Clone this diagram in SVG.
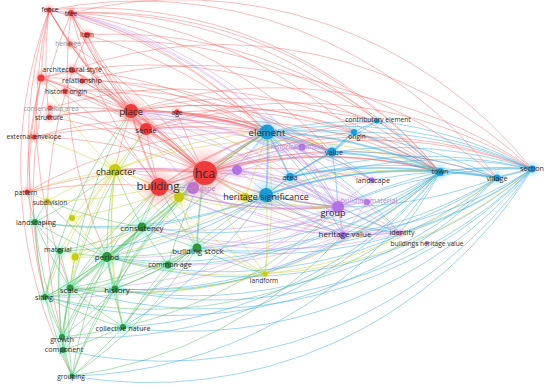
<svg xmlns="http://www.w3.org/2000/svg" width="550" height="387" viewBox="0 0 550 387">
<defs>
<radialGradient id="hr"><stop offset="0" stop-color="#ff6a6a" stop-opacity=".55"/><stop offset="1" stop-color="#ff6a6a" stop-opacity="0"/></radialGradient>
<radialGradient id="hb"><stop offset="0" stop-color="#4cc0f0" stop-opacity=".55"/><stop offset="1" stop-color="#4cc0f0" stop-opacity="0"/></radialGradient>
<radialGradient id="hg"><stop offset="0" stop-color="#70eec8" stop-opacity=".65"/><stop offset="1" stop-color="#70eec8" stop-opacity="0"/></radialGradient>
<radialGradient id="hy"><stop offset="0" stop-color="#e0e640" stop-opacity=".55"/><stop offset="1" stop-color="#e0e640" stop-opacity="0"/></radialGradient>
<radialGradient id="hp"><stop offset="0" stop-color="#d49cf4" stop-opacity=".6"/><stop offset="1" stop-color="#d49cf4" stop-opacity="0"/></radialGradient>
</defs>
<style>
#edges path{fill:none;stroke-width:.95}
#edges .w{stroke-width:1.8}
.r path{stroke:#f26262;stroke-opacity:.45}
.b path{stroke:#2ea4da;stroke-opacity:.48}
.g path{stroke:#35b04a;stroke-opacity:.42}
.p path{stroke:#c48ae8;stroke-opacity:.45}
.y path{stroke:#c6ca2a;stroke-opacity:.45}
.nr{fill:#ee3a3a}.nb{fill:#1c9bd6}.ng{fill:#2f9540}.ny{fill:#c4cb14}.np{fill:#b173e4}
text{font-family:"Open Sans","Liberation Sans",sans-serif;fill:#2e2e2e;text-anchor:middle;dominant-baseline:central;font-size:6.6px}
.f{fill:#9a9a9a}.fp{fill:#b48ad6}
.s7{font-size:7.2px}.s8{font-size:8px}.s9{font-size:9px}.s10{font-size:9.6px}.s11{font-size:11.5px}.s12{font-size:12.5px}
</style>
<rect width="550" height="387" fill="#fff"/>
<g id="edges">
<g class="r">
<path d="M49 10A450 450 0 0 0 205 173"/><path d="M71 13A450 450 0 0 0 205 173"/><path d="M87 35A450 450 0 0 0 205 173"/><path d="M70 44A450 450 0 0 1 205 173"/><path d="M72 70A450 450 0 0 1 205 173"/><path d="M41 78A450 450 0 0 1 205 173"/><path d="M82 81A450 450 0 0 1 205 173"/><path d="M65 91A450 450 0 0 1 205 173"/><path d="M50 108A450 450 0 0 1 205 173"/><path d="M49 117A450 450 0 0 1 205 173"/><path class="w" d="M131 111A450 450 0 0 1 205 173"/><path d="M177 112A450 450 0 0 0 205 173"/><path class="w" d="M146 129A450 450 0 0 1 205 173"/><path d="M34 137A450 450 0 0 1 205 173"/><path d="M27 192A450 450 0 0 1 205 173"/><path class="w" d="M205 173A450 450 0 0 1 267 132"/><path d="M205 173A450 450 0 0 1 377 121"/><path d="M205 173A450 450 0 0 1 354 132"/><path d="M205 173A450 450 0 0 1 332 152"/><path class="w" d="M205 173A450 450 0 0 1 440 172"/><path d="M205 173A450 450 0 0 1 497 178"/><path d="M205 173A450 450 0 0 1 532 169"/><path d="M205 173A450 450 0 0 1 372 180"/><path class="w" d="M205 173A450 450 0 0 0 338 207"/><path d="M205 173A450 450 0 0 0 400 233"/><path d="M205 173A450 450 0 0 0 343 235"/><path class="w" d="M115 170A450 450 0 0 1 205 173"/><path class="w" d="M159 187A450 450 0 0 1 205 173"/>
<path d="M49 10A450 450 0 0 0 131 111"/><path d="M71 13A450 450 0 0 0 131 111"/><path d="M87 35A450 450 0 0 0 131 111"/><path d="M70 44A450 450 0 0 0 131 111"/><path d="M72 70A450 450 0 0 1 131 111"/><path d="M82 81A450 450 0 0 1 131 111"/><path d="M65 91A450 450 0 0 1 131 111"/><path d="M41 78A450 450 0 0 1 131 111"/><path d="M49 117A450 450 0 0 1 131 111"/><path d="M50 108A450 450 0 0 1 131 111"/><path class="w" d="M131 111A450 450 0 0 1 267 132"/><path d="M131 111A450 450 0 0 1 332 152"/><path d="M131 111A450 450 0 0 1 440 172"/><path d="M131 111A450 450 0 0 1 532 169"/><path d="M131 111A450 450 0 0 1 354 132"/><path d="M131 111A450 450 0 0 1 377 121"/><path d="M131 111A450 450 0 0 0 115 170"/><path class="w" d="M131 111A450 450 0 0 0 159 187"/><path d="M131 111A450 450 0 0 0 146 129"/>
<path d="M49 10A450 450 0 0 0 146 129"/><path d="M71 13A450 450 0 0 0 146 129"/><path d="M41 78A450 450 0 0 1 146 129"/><path d="M34 137A450 450 0 0 1 146 129"/><path d="M146 129A450 450 0 0 1 267 132"/><path d="M146 129A450 450 0 0 1 332 152"/><path d="M146 129A450 450 0 0 1 440 172"/><path d="M146 129A450 450 0 0 1 377 121"/><path d="M146 129A450 450 0 0 0 159 187"/><path d="M72 70A450 450 0 0 1 146 129"/>
<path d="M71 13A450 450 0 0 1 267 132"/><path d="M71 13A450 450 0 0 1 332 152"/><path d="M71 13A450 450 0 0 1 440 172"/><path d="M71 13A450 450 0 0 1 532 169"/><path d="M71 13A450 450 0 0 1 377 121"/><path d="M71 13A450 450 0 0 1 354 132"/><path d="M49 10A450 450 0 0 1 71 13"/><path d="M71 13A450 450 0 0 0 87 35"/><path d="M49 10A450 450 0 0 1 267 132"/><path d="M49 10A450 450 0 0 1 440 172"/><path d="M49 10A450 450 0 0 1 497 178"/><path d="M49 10A450 450 0 0 0 49 117"/><path d="M49 10A450 450 0 0 0 41 78"/><path d="M49 10A450 450 0 0 0 70 44"/><path d="M41 78A450 450 0 0 1 267 132"/><path d="M41 78A450 450 0 0 1 440 172"/><path d="M41 78A450 450 0 0 0 27 192"/><path d="M41 78A450 450 0 0 0 34 137"/><path d="M41 78A450 450 0 0 1 72 70"/><path d="M27 192A450 450 0 0 1 159 187"/><path d="M41 78A450 450 0 0 1 159 187"/><path d="M71 13A450 450 0 0 0 159 187"/><path class="w" d="M159 187A450 450 0 0 1 267 132"/><path d="M159 187A450 450 0 0 1 440 172"/><path d="M159 187A450 450 0 0 0 338 207"/><path d="M159 187A450 450 0 0 1 532 169"/><path d="M177 112A450 450 0 0 1 267 132"/><path d="M177 112A450 450 0 0 1 332 152"/><path d="M87 35A450 450 0 0 1 267 132"/><path d="M72 70A450 450 0 0 1 267 132"/><path d="M70 44A450 450 0 0 1 440 172"/><path d="M49 117A450 450 0 0 1 267 132"/><path d="M82 81A450 450 0 0 1 332 152"/><path d="M65 91A450 450 0 0 1 267 132"/><path d="M50 108A450 450 0 0 1 440 172"/><path d="M34 137A450 450 0 0 1 267 132"/><path d="M27 192A450 450 0 0 1 267 132"/>
<path d="M49 10A450 450 0 0 0 70 288"/><path d="M71 13A450 450 0 0 0 45 297"/><path d="M49 10A450 450 0 0 0 35 222"/><path d="M41 78A450 450 0 0 0 45 297"/><path d="M71 13A450 450 0 0 0 107 257"/><path d="M49 10A450 450 0 0 0 72 376"/><path d="M87 35A450 450 0 0 0 62 337"/>
<path d="M87 35A450 450 0 0 1 440 172"/><path d="M72 70A450 450 0 0 1 532 169"/><path d="M82 81A450 450 0 0 1 497 178"/><path d="M65 91A450 450 0 0 1 332 152"/><path d="M177 112A450 450 0 0 1 440 172"/><path d="M146 129A450 450 0 0 1 532 169"/>
</g>
<g class="b">
<path class="w" d="M267 132A450 450 0 0 1 440 172"/><path d="M267 132A450 450 0 0 1 497 178"/><path d="M267 132A450 450 0 0 1 532 169"/><path d="M267 132A450 450 0 0 1 377 121"/><path d="M267 132A450 450 0 0 1 354 132"/><path class="w" d="M267 132A450 450 0 0 1 332 152"/><path class="w" d="M267 132A450 450 0 0 1 290 177"/><path class="w" d="M267 132A450 450 0 0 1 266 195"/><path d="M267 132A450 450 0 0 1 338 207"/><path d="M267 132A450 450 0 0 1 372 180"/><path d="M107 257A450 450 0 0 0 267 132"/><path d="M142 227A450 450 0 0 1 267 132"/><path d="M267 132A450 450 0 0 1 343 235"/><path d="M267 132A450 450 0 0 1 400 233"/>
<path class="w" d="M332 152A450 450 0 0 1 440 172"/><path d="M332 152A450 450 0 0 1 497 178"/><path d="M332 152A450 450 0 0 1 532 169"/><path class="w" d="M290 177A450 450 0 0 1 332 152"/><path d="M266 195A450 450 0 0 1 332 152"/><path d="M332 152A450 450 0 0 1 377 121"/><path d="M332 152A450 450 0 0 1 372 180"/><path class="w" d="M332 152A450 450 0 0 1 354 132"/><path d="M332 152A450 450 0 0 1 338 207"/>
<path class="w" d="M266 195A450 450 0 0 1 440 172"/><path d="M266 195A450 450 0 0 1 532 169"/><path d="M266 195A450 450 0 0 1 497 178"/><path d="M107 257A450 450 0 0 0 266 195"/><path d="M197 248A450 450 0 0 0 266 195"/><path d="M142 227A450 450 0 0 0 266 195"/><path d="M60 251A450 450 0 0 0 266 195"/><path d="M35 222A450 450 0 0 0 266 195"/><path d="M123 327A450 450 0 0 0 266 195"/><path d="M266 195A450 450 0 0 0 338 207"/><path d="M266 195A450 450 0 0 0 343 235"/><path d="M266 195A450 450 0 0 0 400 233"/><path d="M266 195A450 450 0 0 1 290 177"/>
<path class="w" d="M290 177A450 450 0 0 1 440 172"/><path d="M290 177A450 450 0 0 1 497 178"/><path d="M290 177A450 450 0 0 0 400 233"/><path d="M290 177A450 450 0 0 1 532 169"/>
<path class="w" d="M440 172A450 450 0 0 1 532 169"/><path class="w" d="M440 172A450 450 0 0 1 497 178"/><path d="M338 207A450 450 0 0 1 440 172"/><path d="M343 235A450 450 0 0 0 440 172"/><path d="M440 172A450 450 0 0 1 400 233"/><path d="M168 265A450 450 0 0 0 440 172"/><path d="M115 289A450 450 0 0 0 440 172"/><path d="M70 288A450 450 0 0 0 440 172"/><path d="M107 257A450 450 0 0 0 440 172"/><path d="M142 227A450 450 0 0 0 440 172"/><path d="M197 248A450 450 0 0 0 440 172"/><path d="M72 376A450 450 0 0 0 440 172"/><path d="M123 327A450 450 0 0 0 440 172"/><path d="M62 337A450 450 0 0 0 440 172"/><path d="M354 132A450 450 0 0 1 440 172"/><path d="M377 121A450 450 0 0 1 440 172"/><path d="M372 180A450 450 0 0 1 440 172"/>
<path class="w" d="M497 178A450 450 0 0 1 532 169"/><path d="M338 207A450 450 0 0 1 532 169"/><path d="M400 233A450 450 0 0 0 532 169"/><path d="M343 235A450 450 0 0 0 532 169"/><path d="M197 248A450 450 0 0 0 532 169"/><path d="M123 327A450 450 0 0 0 532 169"/><path d="M72 376A450 450 0 0 0 532 169"/><path d="M63 350A450 450 0 0 0 532 169"/><path d="M115 289A450 450 0 0 0 532 169"/><path d="M70 288A450 450 0 0 0 532 169"/><path d="M107 257A450 450 0 0 0 532 169"/><path d="M354 132A450 450 0 0 1 532 169"/><path d="M377 121A450 450 0 0 1 532 169"/>
<path d="M343 235A450 450 0 0 0 497 178"/><path d="M338 207A450 450 0 0 0 497 178"/><path d="M115 289A450 450 0 0 0 497 178"/><path d="M107 257A450 450 0 0 0 497 178"/><path d="M45 297A450 450 0 0 0 497 178"/><path d="M197 248A450 450 0 0 0 497 178"/><path d="M354 132A450 450 0 0 1 377 121"/>
</g>
<g class="p">
<path class="w" d="M193 188A450 450 0 0 0 338 207"/><path d="M159 187A450 450 0 0 0 338 207"/><path class="w" d="M338 207A450 450 0 0 1 343 235"/><path d="M338 207A450 450 0 0 0 400 233"/><path d="M338 207A450 450 0 0 0 367 202"/><path d="M338 207A450 450 0 0 1 372 180"/><path d="M115 170A450 450 0 0 1 338 207"/><path d="M142 227A450 450 0 0 0 338 207"/><path d="M197 248A450 450 0 0 0 338 207"/><path d="M107 257A450 450 0 0 0 338 207"/><path d="M265 274A450 450 0 0 0 338 207"/><path d="M45 297A450 450 0 0 0 338 207"/><path d="M70 288A450 450 0 0 0 338 207"/><path class="w" d="M237 170A450 450 0 0 1 338 207"/><path d="M302 147A450 450 0 0 1 338 207"/><path d="M290 177A450 450 0 0 0 338 207"/>
<path d="M115 170A450 450 0 0 1 193 188"/><path d="M159 187A450 450 0 0 1 193 188"/><path d="M193 188A450 450 0 0 1 267 132"/><path d="M193 188A450 450 0 0 1 332 152"/><path d="M193 188A450 450 0 0 1 302 147"/><path d="M193 188A450 450 0 0 1 205 173"/><path d="M131 111A450 450 0 0 0 193 188"/>
<path d="M159 187A450 450 0 0 0 343 235"/><path d="M193 188A450 450 0 0 0 343 235"/><path d="M142 227A450 450 0 0 0 343 235"/><path d="M168 265A450 450 0 0 0 343 235"/><path d="M343 235A450 450 0 0 0 400 233"/><path d="M367 202A450 450 0 0 1 343 235"/><path d="M265 274A450 450 0 0 0 343 235"/>
<path d="M131 111A450 450 0 0 1 302 147"/><path d="M71 13A450 450 0 0 1 302 147"/><path d="M267 132A450 450 0 0 1 302 147"/><path d="M302 147A450 450 0 0 1 332 152"/><path d="M205 173A450 450 0 0 1 302 147"/><path d="M267 132A450 450 0 0 1 237 170"/><path d="M237 170A450 450 0 0 0 343 235"/><path d="M205 173A450 450 0 0 1 367 202"/><path d="M159 187A450 450 0 0 0 367 202"/><path d="M267 132A450 450 0 0 1 372 180"/><path d="M159 187A450 450 0 0 0 400 233"/><path d="M142 227A450 450 0 0 0 400 233"/>
<path d="M131 111A450 450 0 0 1 338 207"/><path d="M146 129A450 450 0 0 1 338 207"/><path d="M71 13A450 450 0 0 1 338 207"/><path d="M131 111A450 450 0 0 1 343 235"/><path d="M131 111A450 450 0 0 1 400 233"/><path d="M131 111A450 450 0 0 1 367 202"/><path d="M146 129A450 450 0 0 1 372 180"/><path d="M49 10A450 450 0 0 1 338 207"/>
<path d="M237 170A450 450 0 0 1 400 233"/><path d="M193 188A450 450 0 0 0 400 233"/><path d="M237 170A450 450 0 0 1 367 202"/><path d="M205 173A450 450 0 0 1 237 170"/>
</g>
<g class="g">
<path class="w" d="M70 288A450 450 0 0 0 107 257"/><path class="w" d="M107 257A450 450 0 0 0 115 289"/><path d="M45 297A450 450 0 0 0 107 257"/><path d="M107 257A450 450 0 0 0 62 337"/><path d="M107 257A450 450 0 0 0 63 350"/><path d="M107 257A450 450 0 0 0 72 376"/><path d="M60 251A450 450 0 0 0 107 257"/><path d="M35 222A450 450 0 0 0 107 257"/><path class="w" d="M107 257A450 450 0 0 0 142 227"/><path d="M107 257A450 450 0 0 0 197 248"/><path d="M107 257A450 450 0 0 0 168 265"/><path d="M107 257A450 450 0 0 0 123 327"/><path class="w" d="M107 257A450 450 0 0 0 205 173"/><path d="M159 187A450 450 0 0 0 107 257"/><path d="M115 170A450 450 0 0 0 107 257"/><path d="M47 201A450 450 0 0 0 107 257"/>
<path d="M70 288A450 450 0 0 0 142 227"/><path d="M142 227A450 450 0 0 0 115 289"/><path d="M60 251A450 450 0 0 0 142 227"/><path d="M35 222A450 450 0 0 0 142 227"/><path d="M45 297A450 450 0 0 0 142 227"/><path d="M142 227A450 450 0 0 0 197 248"/><path d="M142 227A450 450 0 0 0 62 337"/><path class="w" d="M142 227A450 450 0 0 0 205 173"/><path d="M159 187A450 450 0 0 0 142 227"/><path d="M115 170A450 450 0 0 0 142 227"/><path d="M47 201A450 450 0 0 0 142 227"/><path d="M142 227A450 450 0 0 0 168 265"/>
<path d="M45 297A450 450 0 0 0 70 288"/><path d="M70 288A450 450 0 0 0 62 337"/><path d="M70 288A450 450 0 0 0 63 350"/><path d="M70 288A450 450 0 0 0 72 376"/><path d="M70 288A450 450 0 0 0 115 289"/><path d="M70 288A450 450 0 0 0 123 327"/><path d="M60 251A450 450 0 0 0 70 288"/><path d="M35 222A450 450 0 0 0 70 288"/><path d="M70 288A450 450 0 0 0 197 248"/>
<path d="M62 337A450 450 0 0 0 115 289"/><path d="M63 350A450 450 0 0 0 115 289"/><path d="M115 289A450 450 0 0 0 72 376"/><path d="M115 289A450 450 0 0 0 123 327"/><path d="M45 297A450 450 0 0 0 115 289"/><path d="M115 289A450 450 0 0 0 168 265"/><path d="M115 289A450 450 0 0 0 197 248"/><path d="M115 289A450 450 0 0 0 265 274"/>
<path d="M168 265A450 450 0 0 0 197 248"/><path d="M197 248A450 450 0 0 0 123 327"/><path d="M197 248A450 450 0 0 0 265 274"/><path class="w" d="M205 173A450 450 0 0 0 197 248"/><path d="M159 187A450 450 0 0 0 197 248"/><path d="M45 297A450 450 0 0 0 197 248"/><path d="M72 376A450 450 0 0 0 197 248"/>
<path d="M62 337A450 450 0 0 0 123 327"/><path d="M63 350A450 450 0 0 0 123 327"/><path d="M72 376A450 450 0 0 0 123 327"/><path d="M45 297A450 450 0 0 0 123 327"/><path d="M168 265A450 450 0 0 0 123 327"/>
<path d="M62 337A450 450 0 0 0 63 350"/><path d="M62 337A450 450 0 0 0 72 376"/><path d="M45 297A450 450 0 0 0 62 337"/><path d="M35 222A450 450 0 0 0 62 337"/><path d="M35 222A450 450 0 0 0 60 251"/><path d="M60 251A450 450 0 0 0 45 297"/><path d="M60 251A450 450 0 0 0 62 337"/><path d="M60 251A450 450 0 0 0 63 350"/><path d="M47 201A450 450 0 0 0 35 222"/><path d="M35 222A450 450 0 0 0 45 297"/><path d="M35 222A450 450 0 0 0 115 170"/><path d="M27 192A450 450 0 0 0 35 222"/><path d="M45 297A450 450 0 0 0 72 376"/><path d="M63 350A450 450 0 0 0 72 376"/><path d="M205 173A450 450 0 0 0 168 265"/>
<path d="M267 132A450 450 0 0 0 72 376"/><path d="M72 376A450 450 0 0 0 343 235"/><path d="M45 297A450 450 0 0 0 400 233"/><path d="M123 327A450 450 0 0 0 338 207"/>
<path d="M131 111A450 450 0 0 0 70 288"/><path d="M146 129A450 450 0 0 0 62 337"/><path d="M131 111A450 450 0 0 0 45 297"/>
<path d="M159 187A450 450 0 0 0 70 288"/><path d="M159 187A450 450 0 0 0 115 289"/><path d="M205 173A450 450 0 0 0 115 289"/><path d="M205 173A450 450 0 0 0 70 288"/><path d="M267 132A450 450 0 0 0 115 289"/><path d="M266 195A450 450 0 0 0 123 327"/>
</g>
<g class="y">
<path class="w" d="M115 170A450 450 0 0 1 159 187"/><path d="M146 129A450 450 0 0 0 115 170"/><path d="M47 201A450 450 0 0 1 115 170"/><path d="M115 170A450 450 0 0 0 60 251"/><path d="M27 192A450 450 0 0 1 115 170"/><path d="M34 137A450 450 0 0 1 115 170"/><path d="M41 78A450 450 0 0 0 115 170"/><path d="M115 170A450 450 0 0 0 70 288"/><path d="M115 170A450 450 0 0 0 115 289"/><path d="M115 170A450 450 0 0 0 45 297"/><path d="M115 170A450 450 0 0 0 123 327"/><path d="M115 170A450 450 0 0 1 267 132"/><path d="M115 170A450 450 0 0 1 440 172"/>
<path d="M205 173A450 450 0 0 0 265 274"/><path d="M159 187A450 450 0 0 0 265 274"/><path d="M267 132A450 450 0 0 1 265 274"/><path d="M266 195A450 450 0 0 1 265 274"/><path d="M115 170A450 450 0 0 0 265 274"/><path d="M70 288A450 450 0 0 0 265 274"/><path d="M107 257A450 450 0 0 0 265 274"/><path d="M265 274A450 450 0 0 0 440 172"/><path d="M265 274A450 450 0 0 0 532 169"/><path d="M265 274A450 450 0 0 0 497 178"/>
<path d="M179 197A450 450 0 0 1 205 173"/><path d="M179 197A450 450 0 0 0 197 248"/><path d="M142 227A450 450 0 0 0 179 197"/><path d="M179 197A450 450 0 0 0 338 207"/><path d="M179 197A450 450 0 0 1 267 132"/><path d="M205 173A450 450 0 0 1 245 197"/><path d="M267 132A450 450 0 0 1 245 197"/><path d="M245 197A450 450 0 0 0 338 207"/><path d="M107 257A450 450 0 0 0 245 197"/><path d="M245 197A450 450 0 0 1 440 172"/>
<path d="M27 192A450 450 0 0 1 47 201"/><path d="M47 201A450 450 0 0 0 159 187"/><path d="M115 170A450 450 0 0 0 72 218"/><path d="M72 218A450 450 0 0 0 107 257"/><path d="M72 218A450 450 0 0 0 205 173"/><path d="M75 257A450 450 0 0 0 107 257"/><path d="M75 257A450 450 0 0 0 70 288"/><path d="M75 257A450 450 0 0 0 142 227"/><path d="M75 257A450 450 0 0 0 159 187"/>
</g>
</g>
<g id="nodes">
<g id="n-buildings-heritage-value"><circle cx="427" cy="243" r="2" class="np"/><text x="427" y="243">buildings heritage value</text></g>
<g id="n-identity"><circle cx="400" cy="233" r="7" fill="url(#hp)"/><circle cx="400" cy="233" r="2.5" class="np"/><text x="402" y="232" class="s7">identity</text></g>
<g id="n-heritage-value"><circle cx="343" cy="235" r="10" fill="url(#hp)"/><circle cx="343" cy="235" r="3.5" class="np"/><text x="345" y="233" class="s8">heritage value</text></g>
<g id="n-building-material"><circle cx="367" cy="202" r="8" fill="url(#hp)"/><circle cx="367" cy="202" r="3" class="np"/><text x="369" y="200" class="s7 fp">building material</text></g>
<g id="n-landscape"><circle cx="372" cy="180" r="7" fill="url(#hp)"/><circle cx="372" cy="180" r="2.5" class="np"/><text x="373" y="180" class="s7">landscape</text></g>
<g id="n-group"><circle cx="338" cy="207" r="15" fill="url(#hp)"/><circle cx="338" cy="207" r="6" class="np"/><text x="333" y="212" class="s9">group</text></g>
<g id="n-historical-context"><circle cx="302" cy="147" r="9" fill="url(#hp)"/><circle cx="302" cy="147" r="3.5" class="np"/><text x="297" y="146" class="fp">historical context</text></g>
<g id="n-p1"><circle cx="237" cy="170" r="12" fill="url(#hp)"/><circle cx="237" cy="170" r="5" class="np"/></g>
<g id="n-streetscape"><circle cx="193" cy="188" r="14" fill="url(#hp)"/><circle cx="193" cy="188" r="6" class="np"/><text x="196" y="188" class="s7 fp">streetscape</text></g>
<g id="n-section"><circle cx="532" cy="169" r="9" fill="url(#hb)"/><circle cx="532" cy="169" r="3.5" class="nb"/><text x="532" y="168" class="s7">section</text></g>
<g id="n-village"><circle cx="497" cy="178" r="9" fill="url(#hb)"/><circle cx="497" cy="178" r="3.5" class="nb"/><text x="497" y="178" class="s7">village</text></g>
<g id="n-town"><circle cx="440" cy="172" r="10" fill="url(#hb)"/><circle cx="440" cy="172" r="4" class="nb"/><text x="440" y="171" class="s7">town</text></g>
<g id="n-contributory-element"><circle cx="377" cy="121" r="7" fill="url(#hb)"/><circle cx="377" cy="121" r="2.5" class="nb"/><text x="378" y="119">contributory element</text></g>
<g id="n-origin"><circle cx="354" cy="132" r="8" fill="url(#hb)"/><circle cx="354" cy="132" r="3" class="nb"/><text x="357" y="136">origin</text></g>
<g id="n-value"><circle cx="332" cy="152" r="11" fill="url(#hb)"/><circle cx="332" cy="152" r="4.5" class="nb"/><text x="334" y="152" class="s7">value</text></g>
<g id="n-area"><circle cx="290" cy="177" r="10" fill="url(#hb)"/><circle cx="290" cy="177" r="4" class="nb"/><text x="290" y="177" class="s7">area</text></g>
<g id="n-landform"><circle cx="265" cy="274" r="7" fill="url(#hy)"/><circle cx="265" cy="274" r="2.5" class="ny"/><text x="264" y="280">landform</text></g>
<g id="n-grouping"><circle cx="72" cy="376" r="7" fill="url(#hg)"/><circle cx="72" cy="376" r="2.5" class="ng"/><text x="71" y="376">grouping</text></g>
<g id="n-component"><circle cx="63" cy="350" r="9" fill="url(#hg)"/><circle cx="63" cy="350" r="3" class="ng"/><text x="64" y="349" class="s7">component</text></g>
<g id="n-growth"><circle cx="62" cy="337" r="9" fill="url(#hg)"/><circle cx="62" cy="337" r="3" class="ng"/><text x="62" y="339" class="s7">growth</text></g>
<g id="n-collective-nature"><circle cx="123" cy="327" r="10" fill="url(#hg)"/><circle cx="123" cy="327" r="3" class="ng"/><text x="123" y="328" class="s7">collective nature</text></g>
<g id="n-siting"><circle cx="45" cy="297" r="9" fill="url(#hg)"/><circle cx="45" cy="297" r="3" class="ng"/><text x="44" y="297" class="s7">siting</text></g>
<g id="n-scale"><circle cx="70" cy="288" r="12" fill="url(#hg)"/><circle cx="70" cy="288" r="3.5" class="ng"/><text x="69" y="289" class="s8">scale</text></g>
<g id="n-history"><circle cx="115" cy="289" r="12" fill="url(#hg)"/><circle cx="115" cy="289" r="3.5" class="ng"/><text x="117" y="289" class="s8">history</text></g>
<g id="n-common-age"><circle cx="168" cy="265" r="10" fill="url(#hg)"/><circle cx="168" cy="265" r="3.5" class="ng"/><text x="170" y="264" class="s7">common age</text></g>
<g id="n-building-stock"><circle cx="197" cy="248" r="12" fill="url(#hg)"/><circle cx="197" cy="248" r="4.5" class="ng"/><text x="198" y="250" class="s8">building stock</text></g>
<g id="n-period"><circle cx="107" cy="257" r="14" fill="url(#hg)"/><circle cx="107" cy="257" r="5" class="ng"/><text x="107" y="256" class="s8">period</text></g>
<g id="n-material"><circle cx="60" cy="251" r="9" fill="url(#hg)"/><circle cx="60" cy="251" r="3" class="ng"/><text x="58" y="249" class="s7">material</text></g>
<g id="n-y2"><circle cx="75" cy="257" r="9" fill="url(#hy)"/><circle cx="75" cy="257" r="3.5" class="ny"/></g>
<g id="n-consistency"><circle cx="142" cy="227" r="12" fill="url(#hg)"/><circle cx="142" cy="227" r="4.5" class="ng"/><text x="142" y="227" class="s8">consistency</text></g>
<g id="n-landscaping"><circle cx="35" cy="222" r="9" fill="url(#hg)"/><circle cx="35" cy="222" r="3" class="ng"/><text x="36" y="222" class="s7">landscaping</text></g>
<g id="n-y1"><circle cx="72" cy="218" r="8" fill="url(#hy)"/><circle cx="72" cy="218" r="3" class="ny"/></g>
<g id="n-subdivision"><circle cx="47" cy="201" r="7" fill="url(#hy)"/><circle cx="47" cy="201" r="2.5" class="ny"/><text x="50" y="202">subdivision</text></g>
<g id="n-y4"><circle cx="245" cy="197" r="10" fill="url(#hy)"/><circle cx="245" cy="197" r="4" class="ny"/></g>
<g id="n-y3"><circle cx="179" cy="197" r="12" fill="url(#hy)"/><circle cx="179" cy="197" r="5" class="ny"/></g>
<g id="n-pattern"><circle cx="27" cy="192" r="7" fill="url(#hr)"/><circle cx="27" cy="192" r="2.5" class="nr"/><text x="26" y="192">pattern</text></g>
<g id="n-external-envelope"><circle cx="34" cy="137" r="7" fill="url(#hr)"/><circle cx="34" cy="137" r="2.5" class="nr"/><text x="34" y="136">external envelope</text></g>
<g id="n-structure"><circle cx="49" cy="117" r="7" fill="url(#hr)"/><circle cx="49" cy="117" r="2.5" class="nr"/><text x="49" y="117">structure</text></g>
<g id="n-conservation-area"><circle cx="50" cy="108" r="7" fill="url(#hr)"/><circle cx="50" cy="108" r="2.5" class="nr"/><text x="51" y="108" class="f">conservation area</text></g>
<g id="n-historic-origin"><circle cx="65" cy="91" r="7" fill="url(#hr)"/><circle cx="65" cy="91" r="2.5" class="nr"/><text x="66" y="91">historic origin</text></g>
<g id="n-relationship"><circle cx="82" cy="81" r="7" fill="url(#hr)"/><circle cx="82" cy="81" r="2.5" class="nr"/><text x="82" y="80" class="s7">relationship</text></g>
<g id="n-bigred"><circle cx="41" cy="78" r="9" fill="url(#hr)"/><circle cx="41" cy="78" r="3.5" class="nr"/></g>
<g id="n-architectural-style"><circle cx="72" cy="70" r="8" fill="url(#hr)"/><circle cx="72" cy="70" r="3" class="nr"/><text x="72" y="69" class="s7">architectural style</text></g>
<g id="n-heritage"><circle cx="70" cy="44" r="7" fill="url(#hr)"/><circle cx="70" cy="44" r="2.5" class="nr"/><text x="68" y="43" class="f">heritage</text></g>
<g id="n-item"><circle cx="87" cy="35" r="8" fill="url(#hr)"/><circle cx="87" cy="35" r="3" class="nr"/><text x="87" y="34">item</text></g>
<g id="n-tree"><circle cx="71" cy="13" r="8" fill="url(#hr)"/><circle cx="71" cy="13" r="3" class="nr"/><text x="71" y="13">tree</text></g>
<g id="n-fence"><circle cx="49" cy="10" r="7" fill="url(#hr)"/><circle cx="49" cy="10" r="2.5" class="nr"/><text x="50" y="9">fence</text></g>
<g id="n-age"><circle cx="177" cy="112" r="7" fill="url(#hr)"/><circle cx="177" cy="112" r="2.5" class="nr"/><text x="177" y="112">age</text></g>
<g id="n-sense"><circle cx="146" cy="129" r="15" fill="url(#hr)"/><circle cx="146" cy="129" r="6" class="nr"/><text x="146" y="129" class="s8">sense</text></g>
<g id="n-place"><circle cx="131" cy="111" r="17" fill="url(#hr)"/><circle cx="131" cy="111" r="7" class="nr"/><text x="131" y="111" class="s10">place</text></g>
<g id="n-character"><circle cx="115" cy="170" r="15" fill="url(#hy)"/><circle cx="115" cy="170" r="6" class="ny"/><text x="116" y="171" class="s9">character</text></g>
<g id="n-element"><circle cx="267" cy="132" r="18" fill="url(#hb)"/><circle cx="267" cy="132" r="7.5" class="nb"/><text x="267" y="132" class="s10">element</text></g>
<g id="n-heritage-significance"><circle cx="266" cy="195" r="17" fill="url(#hb)"/><circle cx="266" cy="195" r="7" class="nb"/><text x="266" y="196" class="s9">heritage significance</text></g>
<g id="n-building"><circle cx="159" cy="187" r="22" fill="url(#hr)"/><circle cx="159" cy="187" r="9" class="nr"/><text x="158" y="185" class="s11">building</text></g>
<g id="n-hca"><circle cx="205" cy="173" r="28" fill="url(#hr)"/><circle cx="205" cy="173" r="12" class="nr"/><text x="205" y="173" class="s12">hca</text></g>
</g>
</svg>
